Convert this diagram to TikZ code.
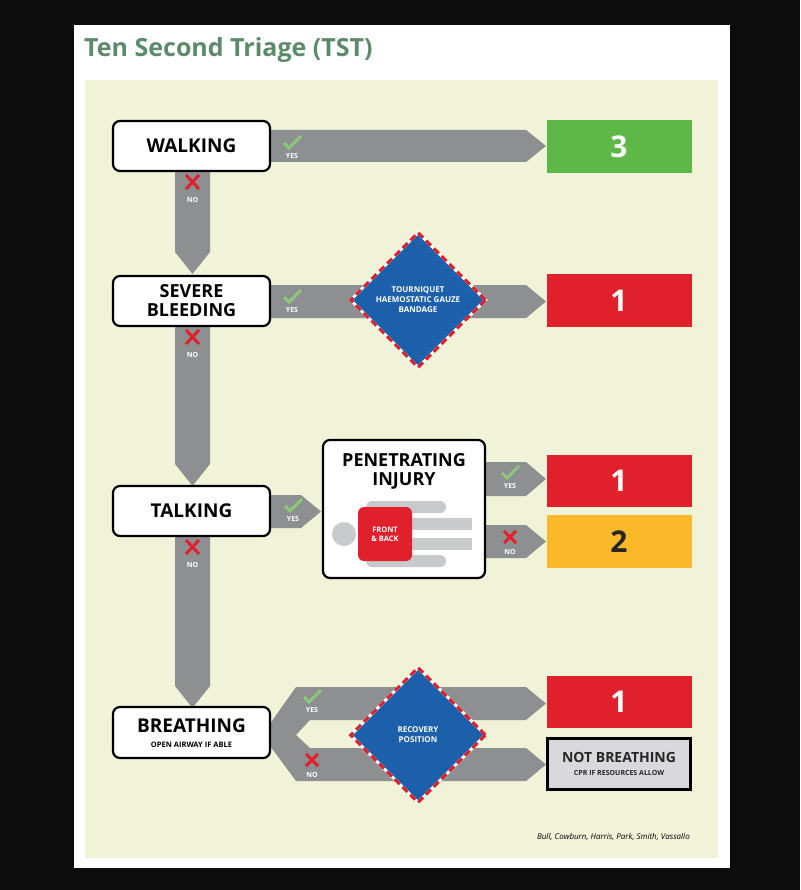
\documentclass[tikz,border=0pt]{standalone}
\usepackage{fontspec}
\setmainfont{Open Sans}
\usetikzlibrary{shapes.geometric}
\definecolor{bg}{HTML}{0C0C0C}
\definecolor{panel}{HTML}{F0F3D8}
\definecolor{band}{HTML}{8E8F91}
\definecolor{tgreen}{HTML}{5E8A6C}
\definecolor{rgreen}{HTML}{5DB848}
\definecolor{rred}{HTML}{E0202A}
\definecolor{rorange}{HTML}{FBB92A}
\definecolor{dblue}{HTML}{1C60AC}
\definecolor{ckgreen}{HTML}{8DC77A}
\definecolor{lgray}{HTML}{C8C9CB}
\tikzset{x=1pt,y=-1pt,
 qbox/.style={draw=black,line width=2.2pt,fill=white,rounded corners=7pt,inner sep=0pt,font=\bfseries\fontsize{19}{19}\selectfont,align=center},
 res/.style={inner sep=0pt,font=\bfseries\fontsize{30}{30}\selectfont,text=white},
 dia/.style={diamond,aspect=1,fill=dblue,draw=white,line width=3pt,minimum size=136pt,inner sep=0pt,text=white,align=center,font=\bfseries\fontsize{8}{10}\selectfont,
   postaction={draw=rred,dash pattern=on 7pt off 4pt,line width=3pt}},
 lab/.style={text=white,font=\bfseries\fontsize{7}{7}\selectfont,inner sep=0pt},
 ck/.style={draw=ckgreen,line width=3pt},
 xx/.style={draw=rred,line width=3pt},
 bnd/.style={fill=band}}
\newcommand\harrow[4]{\fill[bnd] (#1,#3-#4)--(#2-20,#3-#4)--(#2,#3)--(#2-20,#3+#4)--(#1,#3+#4)--cycle;}
\newcommand\varrow[3]{\fill[bnd] (175,#1)--(210,#1)--(210,#2-22)--(192.5,#2)--(175,#2-22)--cycle; \node[lab] (#3) at (192.5,#1+35) {NO}; \draw[xx] (186,#1+10)--(199,#1+24) (199,#1+10)--(186,#1+24);}
\newcommand\yes[3]{\node[lab] (#3) at (#1,#2+13) {YES}; \draw[ck] (#1-8,#2) -- (#1-3,#2+5) -- (#1+9,#2-7);}
\newcommand\no[3]{\node[lab] (#3) at (#1,#2+15) {NO}; \draw[xx] (#1-6,#2-6)--(#1+6,#2+6) (#1+6,#2-6)--(#1-6,#2+6);}
\begin{document}
\begin{tikzpicture}
\useasboundingbox (0,0) rectangle (800,890);
\fill[bg] (0,0) rectangle (800,890);
\fill[white] (74,25) rectangle (730,868);
\fill[panel] (85,80) rectangle (718,858);
\node[anchor=west,text=tgreen,font=\bfseries\fontsize{25}{25}\selectfont,inner sep=0pt] (title) at (84,50) {Ten Second Triage (TST)};
% arrows
\harrow{260}{546}{146}{16}
\harrow{260}{546}{301.5}{16.5}
\harrow{260}{321}{511.5}{16.5}
\harrow{480}{546}{479}{17}
\harrow{480}{546}{541.5}{16.5}
\fill[bnd] (262,735)--(296,687)--(526,687)--(546,703.5)--(526,720)--(310,720)--(296,735)--(310,748)--(526,748)--(546,764.5)--(526,781)--(296,781)--cycle;
\varrow{165}{274}{n1}
\varrow{320}{486}{n2}
\varrow{530}{708}{n3}
% boxes
\node[qbox,minimum width=157pt,minimum height=50pt] (walk) at (191.5,146) {WALKING};
\node[qbox,minimum width=157pt,minimum height=50pt,font=\bfseries\fontsize{18}{19}\selectfont] (sev) at (191.5,301) {SEVERE\\BLEEDING};
\node[qbox,minimum width=157pt,minimum height=50pt] (talk) at (191.5,511) {TALKING};
\node[qbox,minimum width=157pt,minimum height=51pt] (breath) at (191.5,732.5) {};
\node[font=\bfseries\fontsize{19}{19}\selectfont,inner sep=0pt] (bt) at (191.5,726) {BREATHING};
\node[font=\bfseries\fontsize{7.5}{8}\selectfont,inner sep=0pt] (bs) at (191.5,745) {OPEN AIRWAY IF ABLE};
\node[qbox,minimum width=162pt,minimum height=138pt] (pen) at (404,509) {};
\node[font=\bfseries\fontsize{18}{19}\selectfont,align=center,inner sep=0pt] (pent) at (404,471) {PENETRATING\\INJURY};
% body
\fill[lgray] (344,534) circle (12);
\fill[lgray,rounded corners=6pt] (366,501) rectangle (446,513);
\fill[lgray,rounded corners=6pt] (366,555) rectangle (446,567);
\fill[lgray] (412,518) rectangle (472,530);
\fill[lgray] (412,538) rectangle (472,550);
\fill[rred,rounded corners=6pt] (358,507) -- (412,507) -- (412,561) -- (358,561) -- cycle;
\node[text=white,font=\bfseries\fontsize{7.5}{9}\selectfont,align=center,inner sep=0pt] (fb) at (385,534) {FRONT\\\& BACK};
% results
\node[res,fill=rgreen,minimum width=145pt,minimum height=53pt] (r3) at (619,147) {3};
\node[res,fill=rred,minimum width=145pt,minimum height=53pt] (r1a) at (619,300.5) {1};
\node[res,fill=rred,minimum width=145pt,minimum height=52pt] (r1b) at (619,481) {1};
\node[res,fill=rorange,text=black!85,minimum width=145pt,minimum height=53pt] (r2) at (619,541.5) {2};
\node[res,fill=rred,minimum width=145pt,minimum height=52pt] (r1c) at (619,702) {1};
\node[draw=black,line width=2.2pt,fill=lgray!70,minimum width=143pt,minimum height=51pt,inner sep=0pt] (nb) at (619,764) {};
\node[font=\bfseries\fontsize{14}{14}\selectfont,text=black!85,inner sep=0pt] (nbt) at (619,757) {NOT BREATHING};
\node[font=\bfseries\fontsize{7}{7}\selectfont,text=black!85,inner sep=0pt] (nbs) at (619,773) {CPR IF RESOURCES ALLOW};
% diamonds
\node[dia] (d1) at (418,300) {TOURNIQUET\\HAEMOSTATIC GAUZE\\BANDAGE};
\node[dia] (d2) at (418,735) {RECOVERY\\POSITION};
% labels
\yes{292}{143}{y1}
\yes{292}{297}{y2}
\yes{293}{506}{y3}
\yes{510}{473}{y4}
\yes{312}{697}{y5}
\no{510}{537}{o1}
\no{312}{760}{o2}
\node[anchor=east,font=\itshape\fontsize{8}{8}\selectfont,inner sep=0pt] (cred) at (690,837) {Bull, Cowburn, Harris, Park, Smith, Vassallo};
\end{tikzpicture}
\end{document}
